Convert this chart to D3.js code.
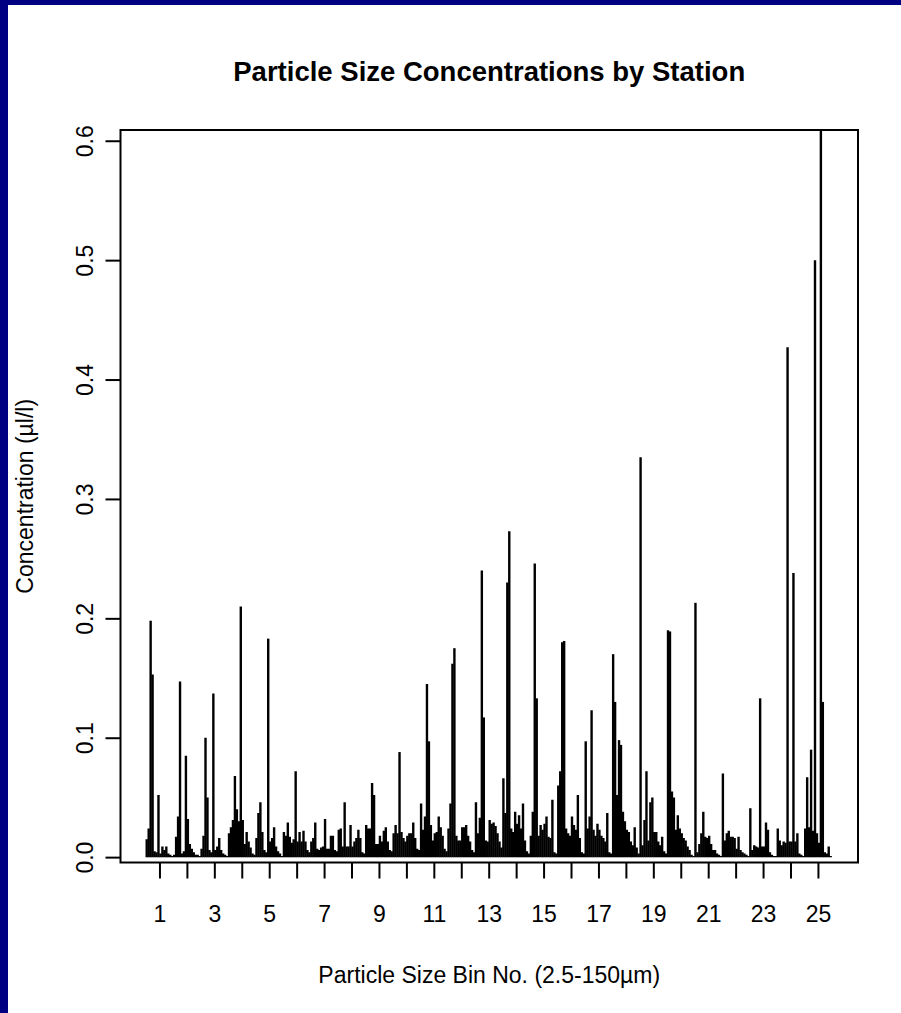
<!DOCTYPE html>
<html lang="en">
<head>
  <meta charset="UTF-8">
  <script src="https://d3js.org/d3.v7.min.js"></script>
  <title>Particle Size Concentrations by Station</title>
  <style>
    body { margin: 0; background: #fff; }
    svg text { font-family: "Liberation Sans", Arial, sans-serif; fill: #000; }
  </style>
</head>
<body>
  <svg width="901" height="1013"></svg>
  <script>
    // concentration (µl/l) per station, one array per particle size bin
    const bin1  = [0.015, 0.024, 0.198, 0.153, 0.005, 0.004, 0.052, 0.003, 0.009, 0.006, 0.009, 0.003, 0.002, 0.001];
    const bin2  = [0.002, 0.017, 0.034, 0.147, 0.003, 0.005, 0.085, 0.032, 0.011, 0.007, 0.004, 0.002, 0.002, 0.001];
    const bin3  = [0.007, 0.018, 0.100, 0.050, 0.006, 0.004, 0.137, 0.006, 0.009, 0.016, 0.006, 0.003, 0.002, 0.001];
    const bin4  = [0.020, 0.025, 0.031, 0.068, 0.040, 0.030, 0.210, 0.031, 0.011, 0.021, 0.013, 0.008, 0.003, 0.002];
    const bin5  = [0.016, 0.037, 0.046, 0.021, 0.006, 0.004, 0.183, 0.013, 0.016, 0.025, 0.009, 0.005, 0.003, 0.001];
    const bin6  = [0.021, 0.018, 0.029, 0.017, 0.012, 0.015, 0.072, 0.013, 0.021, 0.013, 0.022, 0.013, 0.006, 0.004];
    const bin7  = [0.013, 0.016, 0.029, 0.007, 0.006, 0.008, 0.009, 0.032, 0.007, 0.007, 0.018, 0.018, 0.006, 0.005];
    const bin8  = [0.023, 0.024, 0.009, 0.046, 0.009, 0.009, 0.027, 0.009, 0.013, 0.016, 0.023, 0.016, 0.004, 0.003];
    const bin9  = [0.027, 0.024, 0.024, 0.062, 0.052, 0.011, 0.011, 0.018, 0.013, 0.022, 0.025, 0.013, 0.006, 0.005];
    const bin10 = [0.020, 0.027, 0.020, 0.088, 0.021, 0.016, 0.013, 0.018, 0.020, 0.020, 0.029, 0.016, 0.007, 0.006];
    const bin11 = [0.045, 0.023, 0.034, 0.145, 0.097, 0.027, 0.014, 0.020, 0.021, 0.034, 0.025, 0.018, 0.007, 0.005];
    const bin12 = [0.024, 0.045, 0.162, 0.175, 0.018, 0.014, 0.014, 0.025, 0.025, 0.027, 0.018, 0.013, 0.006, 0.004];
    const bin13 = [0.046, 0.020, 0.033, 0.240, 0.117, 0.014, 0.013, 0.031, 0.028, 0.029, 0.026, 0.020, 0.013, 0.008];
    const bin14 = [0.066, 0.037, 0.230, 0.273, 0.024, 0.021, 0.038, 0.028, 0.035, 0.024, 0.045, 0.014, 0.005, 0.003];
    const bin15 = [0.018, 0.038, 0.246, 0.133, 0.018, 0.027, 0.023, 0.028, 0.034, 0.017, 0.016, 0.048, 0.004, 0.003];
    const bin16 = [0.060, 0.072, 0.180, 0.181, 0.024, 0.020, 0.018, 0.034, 0.027, 0.023, 0.052, 0.016, 0.004, 0.003];
    const bin17 = [0.097, 0.024, 0.034, 0.123, 0.023, 0.018, 0.028, 0.023, 0.018, 0.016, 0.013, 0.037, 0.004, 0.003];
    const bin18 = [0.170, 0.130, 0.052, 0.098, 0.094, 0.038, 0.030, 0.023, 0.021, 0.013, 0.010, 0.025, 0.008, 0.003];
    const bin19 = [0.335, 0.010, 0.031, 0.072, 0.014, 0.046, 0.050, 0.021, 0.021, 0.013, 0.010, 0.017, 0.005, 0.003];
    const bin20 = [0.190, 0.189, 0.055, 0.050, 0.023, 0.035, 0.024, 0.020, 0.016, 0.014, 0.009, 0.006, 0.002, 0.001];
    const bin21 = [0.213, 0.004, 0.011, 0.020, 0.038, 0.017, 0.016, 0.018, 0.011, 0.006, 0.006, 0.003, 0.002, 0.001];
    const bin22 = [0.070, 0.014, 0.020, 0.022, 0.017, 0.017, 0.016, 0.007, 0.017, 0.006, 0.004, 0.003, 0.002, 0.001];
    const bin23 = [0.041, 0.006, 0.010, 0.009, 0.008, 0.133, 0.009, 0.009, 0.029, 0.023, 0.004, 0.002, 0.001, 0.001];
    const bin24 = [0.024, 0.014, 0.010, 0.013, 0.012, 0.427, 0.013, 0.013, 0.238, 0.013, 0.020, 0.003, 0.002, 0.001];
    const bin25 = [0.024, 0.067, 0.025, 0.090, 0.022, 0.500, 0.020, 0.012, 0.610, 0.130, 0.004, 0.003, 0.009, 0.001];

    const bins = [bin1, bin2, bin3, bin4, bin5, bin6, bin7, bin8, bin9, bin10, bin11, bin12, bin13,
                  bin14, bin15, bin16, bin17, bin18, bin19, bin20, bin21, bin22, bin23, bin24, bin25];
    const xTicks = d3.range(1, 26);
    const yTicks = [0, 0.1, 0.2, 0.3, 0.4, 0.5, 0.6];

    const svg = d3.select("svg");

    // blue frame on the left and top
    svg.append("rect").attr("x", 0).attr("y", 0).attr("width", 901).attr("height", 1013).attr("fill", "#fff");
    svg.append("rect").attr("x", 0).attr("y", 0).attr("width", 8).attr("height", 1013).attr("fill", "#000082");
    svg.append("rect").attr("x", 0).attr("y", 0).attr("width", 901).attr("height", 5).attr("fill", "#000082");

    const plotL = 120.5, plotR = 858, plotT = 130, plotB = 862.5;
    const xScale = d3.scaleLinear().domain([-0.42, 26.46]).range([plotL, plotR]);
    const yScale = d3.scaleLinear().domain([-0.0045, 0.609]).range([plotB, plotT]);

    // flatten to one mark per station, x offset inside its bin
    const points = [];
    bins.forEach((vals, b) => {
      vals.forEach((v, j) => {
        points.push({ x: b + 1 - 0.5 + (j + 0.5) / vals.length, y: v });
      });
    });

    svg.append("clipPath").attr("id", "plotClip")
      .append("rect").attr("x", plotL).attr("y", plotT).attr("width", plotR - plotL).attr("height", plotB - plotT);

    svg.append("g").attr("clip-path", "url(#plotClip)")
      .selectAll("line")
      .data(points)
      .join("line")
      .attr("x1", d => xScale(d.x))
      .attr("x2", d => xScale(d.x))
      .attr("y1", yScale(0))
      .attr("y2", d => yScale(d.y))
      .attr("stroke", "#000")
      .attr("stroke-width", 2.4);

    // box
    svg.append("rect")
      .attr("x", plotL).attr("y", plotT)
      .attr("width", plotR - plotL).attr("height", plotB - plotT)
      .attr("fill", "none").attr("stroke", "#000").attr("stroke-width", 2);

    // x axis
    const xAxis = d3.axisBottom(xScale)
      .tickValues(xTicks)
      .tickSize(16)
      .tickFormat(d => d % 2 ? d : "");
    const xg = svg.append("g").attr("transform", `translate(0,${plotB})`).call(xAxis);
    xg.select(".domain").remove();
    xg.selectAll(".tick line").attr("stroke-width", 2);
    xg.selectAll(".tick text")
      .attr("y", 59).attr("dy", 0)
      .style("font-size", "23px");

    // y axis
    const yAxis = d3.axisLeft(yScale)
      .tickValues(yTicks)
      .tickSize(15)
      .tickFormat(d3.format(".1f"));
    const yg = svg.append("g").attr("transform", `translate(${plotL},0)`).call(yAxis);
    yg.select(".domain").remove();
    yg.selectAll(".tick line").attr("stroke-width", 2);
    yg.selectAll(".tick text")
      .attr("transform", "rotate(-90)")
      .attr("x", 0).attr("y", -28).attr("dy", 0)
      .attr("text-anchor", "middle")
      .style("font-size", "23px");

    const midX = (plotL + plotR) / 2;
    const midY = (plotT + plotB) / 2;

    svg.append("text")
      .attr("x", midX).attr("y", 81)
      .attr("text-anchor", "middle")
      .style("font-size", "27.5px").style("font-weight", "bold")
      .text("Particle Size Concentrations by Station");

    svg.append("text")
      .attr("x", midX).attr("y", 983)
      .attr("text-anchor", "middle")
      .style("font-size", "23px")
      .text("Particle Size Bin No. (2.5-150µm)");

    svg.append("text")
      .attr("transform", `translate(33,${midY}) rotate(-90)`)
      .attr("text-anchor", "middle")
      .style("font-size", "23px")
      .text("Concentration (µl/l)");
  </script>
</body>
</html>
